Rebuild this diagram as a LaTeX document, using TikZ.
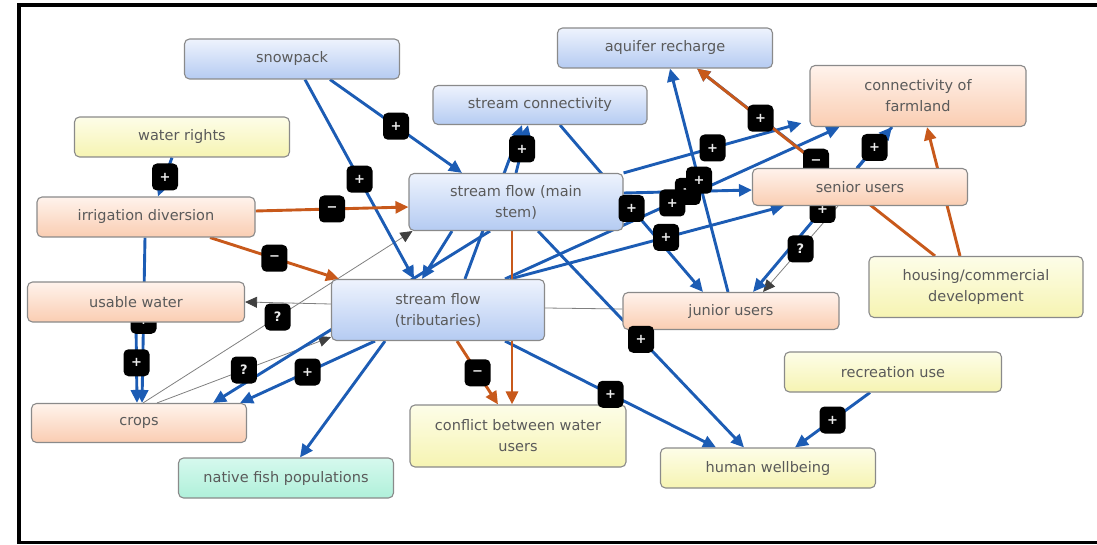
\documentclass[tikz,border=0pt]{standalone}
\usepackage{fontspec}
\setmainfont{DejaVu Sans}
\usetikzlibrary{arrows.meta,calc,backgrounds}
\definecolor{eblue}{HTML}{1C5CB4}
\definecolor{eorange}{HTML}{C8591B}
\definecolor{gline}{HTML}{808080}
\definecolor{garrow}{HTML}{404040}
\definecolor{bord}{HTML}{8A8A8A}
\definecolor{txt}{HTML}{5A5A5A}
\definecolor{btop}{HTML}{EEF3FD}
\definecolor{bbot}{HTML}{B5CBF2}
\definecolor{otop}{HTML}{FFF3EC}
\definecolor{obot}{HTML}{FACDB2}
\definecolor{ytop}{HTML}{FDFDE8}
\definecolor{ybot}{HTML}{F6F4B2}
\definecolor{gtop}{HTML}{D6F9EE}
\definecolor{gbot}{HTML}{AFF0DA}
\begin{document}
\begin{tikzpicture}[x=1pt,y=-1pt,
  base/.style={draw=bord, line width=1.1pt, rounded corners=5pt, minimum width=215pt, minimum height=40pt, inner sep=2pt, align=center, text=txt, font=\fontsize{14.5}{21}\selectfont},
  bbox/.style={base, top color=btop, bottom color=bbot},
  obox/.style={base, top color=otop, bottom color=obot},
  ybox/.style={base, top color=ytop, bottom color=ybot},
  gbox/.style={base, top color=gtop, bottom color=gbot},
  be/.style={draw=eblue, line width=2.9pt, -{Triangle[length=13pt,width=12pt]}},
  oe/.style={draw=eorange, line width=2.9pt, -{Triangle[length=13pt,width=12pt]}},
  ge/.style={draw=gline, line width=0.8pt, -{Triangle[length=12pt,width=11pt,color=garrow]}},
  gl/.style={draw=gline, line width=0.8pt},
  lab/.style={fill=black, rounded corners=5pt, minimum width=26pt, minimum height=27pt, inner sep=0pt, text=white!92!black, font=\bfseries\fontsize{13}{13}\selectfont}
]
\useasboundingbox (0,0) rectangle (1097,545);
% frame
\fill[black] (17,3) rectangle (1097,7);
\fill[black] (17,3) rectangle (21,544);
\fill[black] (17,540.5) rectangle (1097,544);

% nodes
\node[bbox] (snow) at (292,59) {snowpack};
\node[ybox] (wr) at (182,137) {water rights};
\node[obox, minimum width=218pt] (irr) at (146,217) {irrigation diversion};
\node[obox, minimum width=217pt] (usable) at (136,302) {usable water};
\node[obox, minimum height=39pt] (crops) at (139,423) {crops};
\node[gbox] (fish) at (286,478) {native fish populations};
\node[bbox, minimum width=213pt, minimum height=61pt] (trib) at (438,310) {stream flow\\(tributaries)};
\node[bbox, minimum width=214pt, minimum height=57pt] (main) at (516,202) {stream flow (main\\stem)};
\node[bbox, minimum width=214pt, minimum height=39pt] (conn) at (540,105) {stream connectivity};
\node[bbox] (aq) at (665,48) {aquifer recharge};
\node[obox, minimum width=216pt, minimum height=61pt] (farm) at (918,96) {connectivity of\\farmland};
\node[obox, minimum height=37pt] (senior) at (860,187) {senior users};
\node[ybox, minimum width=214pt, minimum height=61pt] (housing) at (976,287) {housing/commercial\\development};
\node[obox, minimum width=216pt, minimum height=37pt] (junior) at (731,311) {junior users};
\node[ybox, minimum width=216pt, minimum height=62pt] (conflict) at (518,436) {conflict between water\\users};
\node[ybox] (hw) at (768,468) {human wellbeing};
\node[ybox, minimum width=217pt] (rec) at (893,372) {recreation use};

\begin{pgfonlayer}{background}
% gray links
\draw[ge] ($(crops.north)+(4,0)$) -- coordinate[pos=.5] (l8) ($(main.south west)+(4,0)$);
\draw[ge] ($(crops.north)+(18,0)$) -- coordinate[pos=.5] (l9) ($(trib.south west)+(0,-4)$);
\draw[ge] ($(trib.west)+(0,-6)$) -- ($(usable.east)$);
\draw[gl] ($(trib.east)+(0,-2)$) -- ($(junior.west)+(0,-2)$);
\draw[ge] ($(senior.south)+(-22,0)$) -- coordinate[pos=.5] (l12) ($(junior.north)+(32,0)$);
% blue links
\draw[be] ($(snow.south)+(38,0)$) -- coordinate[pos=.5] (l1) ($(main.north)+(-54,0)$);
\draw[be] ($(snow.south)+(13,0)$) -- coordinate[pos=.5] (l2) ($(trib.north)+(-24,0)$);
\draw[be] ($(wr.south)+(-10,0)$) -- coordinate[pos=.5] (l3) ($(irr.north)+(12,0)$);
\draw[be] ($(irr.south)+(-1,0)$) -- coordinate[pos=.5] (l6) ($(crops.north)+(3,0)$);
\draw[be] (usable.south) -- coordinate[pos=.5] (l7) ($(crops.north)+(-2,0)$);
\draw[be] ($(farm.south)+(-26,0)$) -- coordinate[pos=.5] (l13) ($(junior.north)+(22,0)$);
\draw[be] ($(senior.north)+(-3,0)$) -- coordinate[pos=.5] (l14) ($(farm.south)+(-26,0)$);
\draw[be] ($(senior.north)+(-36,0)$) -- coordinate[pos=.5] (l17) ($(aq.south)+(32,0)$);
\draw[be] ($(junior.north)+(-3,0)$) -- coordinate[pos=.5] (l18) ($(aq.south)+(5,0)$);
\draw[be] ($(conn.south)+(20,0)$) -- coordinate[pos=.5] (l19) ($(junior.north)+(-28,0)$);
\draw[be] ($(main.south)+(22,0)$) -- coordinate[pos=.5] (l20) ($(hw.north)+(-24,0)$);
\draw[be] (main.north east) -- coordinate[pos=.5] (l21) ($(farm.south west)+(-8,-4)$);
\draw[be] ($(main.east)+(0,-9)$) -- coordinate[pos=.5] (l22) ($(senior.west)+(0,3)$);
\draw[be] ($(trib.north east)+(-35,0)$) -- coordinate[pos=.57] (l23) ($(senior.south west)+(32,0)$);
\draw[be] ($(trib.north east)+(-40,0)$) -- coordinate[pos=.5] (l24) ($(farm.south west)+(30,0)$);
\draw[be] (main.north) -- coordinate[pos=.5] (l25) ($(conn.south)+(-12,0)$);
\draw[be] ($(trib.north)+(27,0)$) -- ($(conn.south)+(-18,0)$);
\draw[be] ($(main.south)+(-64,0)$) -- ($(trib.north)+(-16,0)$);
\draw[be] ($(main.south)+(-26,0)$) -- coordinate[pos=.5] (l28) ($(crops.north east)+(-34,0)$);
\draw[be] ($(trib.south)+(-63,0)$) -- coordinate[pos=.5] (l29) ($(crops.north east)+(-7,0)$);
\draw[be] ($(trib.south)+(-53,0)$) -- ($(fish.north)+(14,0)$);
\draw[be] ($(trib.south east)+(-40,0)$) -- coordinate[pos=.5] (l33) ($(hw.north)+(-52,0)$);
\draw[be] ($(rec.south)+(-23,0)$) -- coordinate[pos=.5] (l34) ($(hw.north)+(27,0)$);
% orange links
\draw[oe] ($(irr.east)+(0,-6)$) -- coordinate[pos=.5] (l4) ($(main.west)+(0,5)$);
\draw[oe] ($(irr.south)+(64,0)$) -- coordinate[pos=.5] (l5) ($(trib.north west)+(8,0)$);
\draw[oe] ($(housing.north)+(-41,0)$) -- coordinate[pos=.5] (l15) ($(aq.south)+(32,0)$);
\draw[oe] ($(housing.north)+(-16,0)$) -- coordinate[pos=.5] (l16) ($(farm.south)+(9,0)$);
\draw[oe] ($(trib.south)+(19,0)$) -- coordinate[pos=.5] (l31) ($(conflict.north)+(-20,0)$);
\draw[oe] ($(main.south)+(-4,0)$) -- coordinate[pos=.5] (l32) ($(conflict.north)+(-6,0)$);
% labels hidden behind boxes
\node[lab] at (l6) {+};
\node[lab] at (l28) {+};
\node[lab] at (l32) {+};
\node[lab] at (l13) {+};
\node[lab] at (l15) {−};
\node[lab] at (l16) {+};
\end{pgfonlayer}

% visible labels
\node[lab] at (l1) {+};
\node[lab] at (l2) {+};
\node[lab] at (l3) {+};
\node[lab] at (l4) {−};
\node[lab] at (l5) {−};
\node[lab] at (l7) {+};
\node[lab] at (l8) {?};
\node[lab] at (l9) {?};
\node[lab] at (l12) {?};
\node[lab] at (l14) {+};
\node[lab] at (l17) {+};
\node[lab] at (l22) {−};
\node[lab] at (l18) {+};
\node[lab] at (l24) {+};
\node[lab] at (l19) {+};
\node[lab] at (l20) {+};
\node[lab] at (l21) {+};
\node[lab] at (l23) {+};
\node[lab] at (l25) {+};
\node[lab] at (l29) {+};
\node[lab] at (l31) {−};
\node[lab] at (l33) {+};
\node[lab] at (l34) {+};
\end{tikzpicture}
\end{document}
